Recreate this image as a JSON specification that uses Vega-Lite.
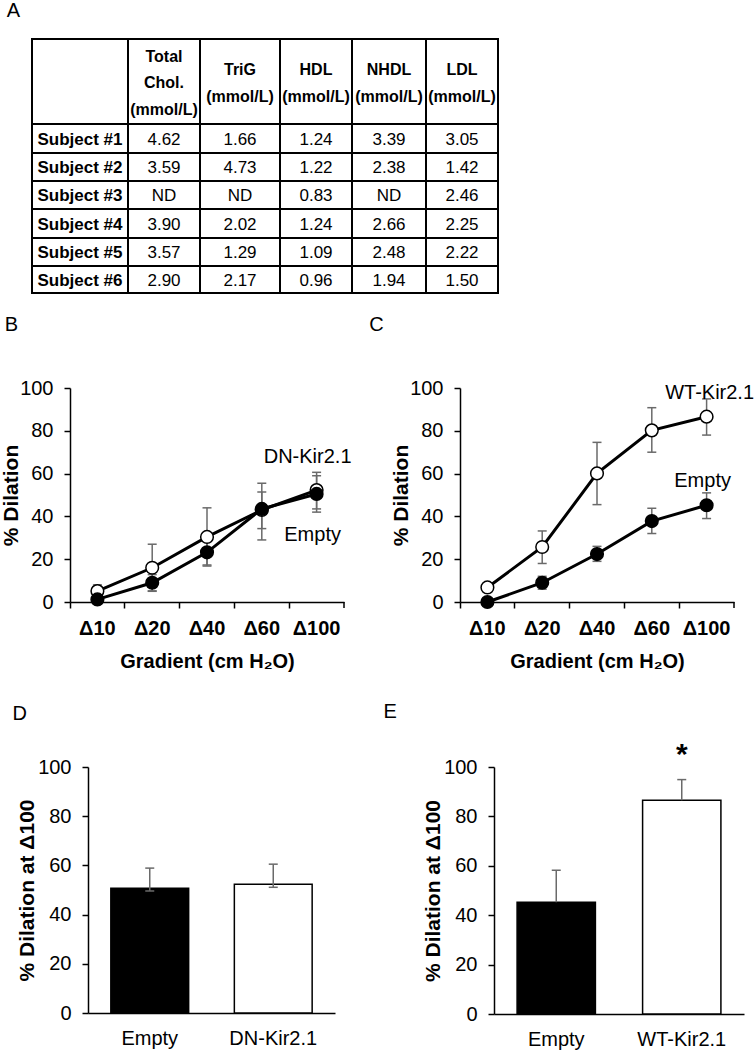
{
  "$schema": "https://vega.github.io/schema/vega-lite/v6.json",
  "width": 754,
  "height": 1050,
  "autosize": {"type": "none"},
  "padding": 0,
  "background": "white",
  "config": {
    "view": {"stroke": null},
    "font": "Liberation Sans",
    "axis": {
      "domainColor": "black", "domainWidth": 1.5, "tickColor": "black", "tickWidth": 1.5, "tickSize": 6,
      "labelColor": "black", "labelFont": "Liberation Sans", "labelFontSize": 20, "labelPadding": 11,
      "titleColor": "black", "titleFont": "Liberation Sans", "titleFontSize": 21, "titleFontWeight": "bold",
      "grid": false
    }
  },
  "datasets": {
    "colHeads3": [
      {"row": 0, "col": 1, "label": "Total\nChol.\n(mmol/L)"}
    ],
    "colHeads2": [
      {"row": 0, "col": 2, "label": "TriG\n(mmol/L)"},
      {"row": 0, "col": 3, "label": "HDL\n(mmol/L)"},
      {"row": 0, "col": 4, "label": "NHDL\n(mmol/L)"},
      {"row": 0, "col": 5, "label": "LDL\n(mmol/L)"}
    ],
    "rowHeads": [
      {"row": 1, "col": 0, "label": "Subject #1"},
      {"row": 2, "col": 0, "label": "Subject #2"},
      {"row": 3, "col": 0, "label": "Subject #3"},
      {"row": 4, "col": 0, "label": "Subject #4"},
      {"row": 5, "col": 0, "label": "Subject #5"},
      {"row": 6, "col": 0, "label": "Subject #6"}
    ],
    "tableValues": [
      {"row": 1, "col": 1, "label": "4.62"}, {"row": 1, "col": 2, "label": "1.66"}, {"row": 1, "col": 3, "label": "1.24"}, {"row": 1, "col": 4, "label": "3.39"}, {"row": 1, "col": 5, "label": "3.05"},
      {"row": 2, "col": 1, "label": "3.59"}, {"row": 2, "col": 2, "label": "4.73"}, {"row": 2, "col": 3, "label": "1.22"}, {"row": 2, "col": 4, "label": "2.38"}, {"row": 2, "col": 5, "label": "1.42"},
      {"row": 3, "col": 1, "label": "ND"}, {"row": 3, "col": 2, "label": "ND"}, {"row": 3, "col": 3, "label": "0.83"}, {"row": 3, "col": 4, "label": "ND"}, {"row": 3, "col": 5, "label": "2.46"},
      {"row": 4, "col": 1, "label": "3.90"}, {"row": 4, "col": 2, "label": "2.02"}, {"row": 4, "col": 3, "label": "1.24"}, {"row": 4, "col": 4, "label": "2.66"}, {"row": 4, "col": 5, "label": "2.25"},
      {"row": 5, "col": 1, "label": "3.57"}, {"row": 5, "col": 2, "label": "1.29"}, {"row": 5, "col": 3, "label": "1.09"}, {"row": 5, "col": 4, "label": "2.48"}, {"row": 5, "col": 5, "label": "2.22"},
      {"row": 6, "col": 1, "label": "2.90"}, {"row": 6, "col": 2, "label": "2.17"}, {"row": 6, "col": 3, "label": "0.96"}, {"row": 6, "col": 4, "label": "1.94"}, {"row": 6, "col": 5, "label": "1.50"}
    ],
    "lineB": [
      {"group": "DN-Kir2.1", "grad": "Δ10", "mean": 5.1, "lo": 2.2, "hi": 8},
      {"group": "DN-Kir2.1", "grad": "Δ20", "mean": 16, "lo": 5, "hi": 27},
      {"group": "DN-Kir2.1", "grad": "Δ40", "mean": 30.4, "lo": 16.8, "hi": 44},
      {"group": "DN-Kir2.1", "grad": "Δ60", "mean": 43, "lo": 29, "hi": 55.5},
      {"group": "DN-Kir2.1", "grad": "Δ100", "mean": 52.3, "lo": 43.5, "hi": 60.6},
      {"group": "Empty", "grad": "Δ10", "mean": 1.2, "lo": 0, "hi": 2.5},
      {"group": "Empty", "grad": "Δ20", "mean": 9, "lo": 5.2, "hi": 12.8},
      {"group": "Empty", "grad": "Δ40", "mean": 23.2, "lo": 17.3, "hi": 29},
      {"group": "Empty", "grad": "Δ60", "mean": 43.5, "lo": 34.3, "hi": 51.4},
      {"group": "Empty", "grad": "Δ100", "mean": 50.5, "lo": 42, "hi": 59}
    ],
    "lineC": [
      {"group": "WT-Kir2.1", "grad": "Δ10", "mean": 6.8, "lo": 4.5, "hi": 9},
      {"group": "WT-Kir2.1", "grad": "Δ20", "mean": 25.7, "lo": 18, "hi": 33.2},
      {"group": "WT-Kir2.1", "grad": "Δ40", "mean": 60.1, "lo": 45.5, "hi": 74.6},
      {"group": "WT-Kir2.1", "grad": "Δ60", "mean": 80.2, "lo": 70, "hi": 90.8},
      {"group": "WT-Kir2.1", "grad": "Δ100", "mean": 86.6, "lo": 78, "hi": 94.9},
      {"group": "Empty", "grad": "Δ10", "mean": 0, "lo": 0, "hi": 1},
      {"group": "Empty", "grad": "Δ20", "mean": 9, "lo": 6, "hi": 12},
      {"group": "Empty", "grad": "Δ40", "mean": 22.4, "lo": 19, "hi": 26},
      {"group": "Empty", "grad": "Δ60", "mean": 37.8, "lo": 32, "hi": 43.8},
      {"group": "Empty", "grad": "Δ100", "mean": 45.2, "lo": 39, "hi": 51}
    ],
    "barsD": [
      {"group": "Empty", "mean": 50.7, "lo": 49.6, "hi": 58.9},
      {"group": "DN-Kir2.1", "mean": 52.3, "lo": 51.1, "hi": 60.5}
    ],
    "barsE": [
      {"group": "Empty", "mean": 45.2, "hi": 58.2},
      {"group": "WT-Kir2.1", "mean": 86.5, "hi": 94.9}
    ]
  },
  "layer": [
    {
      "layer": [
        {
          "layer": [
            {
              "data": {"values": [{"col": 0}, {"col": 1}, {"col": 2}, {"col": 3}, {"col": 4}, {"col": 5}, {"col": 6}]},
              "mark": {"type": "rule", "color": "black", "strokeWidth": 2, "strokeCap": "square"},
              "encoding": {
                "x": {"field": "col", "type": "quantitative", "axis": null, "scale": {"domain": [0, 1, 2, 3, 4, 5, 6], "range": [32, 128, 200, 280, 352, 426, 498], "zero": false, "nice": false}},
                "y": {"datum": 0, "type": "quantitative", "axis": null, "scale": {"domain": [0, 1, 2, 3, 4, 5, 6, 7], "range": [39, 124, 153, 181, 209, 238, 266, 293], "zero": false, "nice": false}},
                "y2": {"datum": 7}
              }
            },
            {
              "data": {"values": [{"row": 0}, {"row": 1}, {"row": 2}, {"row": 3}, {"row": 4}, {"row": 5}, {"row": 6}, {"row": 7}]},
              "mark": {"type": "rule", "color": "black", "strokeWidth": 2, "strokeCap": "square"},
              "encoding": {
                "y": {"field": "row", "type": "quantitative", "axis": null, "scale": {"domain": [0, 1, 2, 3, 4, 5, 6, 7], "range": [39, 124, 153, 181, 209, 238, 266, 293], "zero": false, "nice": false}},
                "x": {"datum": 0, "type": "quantitative", "axis": null, "scale": {"domain": [0, 1, 2, 3, 4, 5, 6], "range": [32, 128, 200, 280, 352, 426, 498], "zero": false, "nice": false}},
                "x2": {"datum": 6}
              }
            }
          ]
        },
        {
          "encoding": {
            "x": {"field": "col", "type": "quantitative", "axis": null, "scale": {"domain": [0, 1, 2, 3, 4, 5], "range": [80, 164, 240, 316, 389, 462], "zero": false, "nice": false}},
            "y": {"field": "row", "type": "quantitative", "axis": null, "scale": {"domain": [0, 1, 2, 3, 4, 5, 6], "range": [83, 140, 168, 196, 224.5, 253, 280.5], "zero": false, "nice": false}},
            "text": {"field": "label", "type": "nominal"}
          },
          "layer": [
            {
              "data": {"name": "colHeads3"},
              "mark": {"type": "text", "font": "Liberation Sans", "fontSize": 16, "fontWeight": "bold", "color": "black", "align": "center", "baseline": "middle", "lineBreak": "\n", "lineHeight": 26.5, "dy": -26.5}
            },
            {
              "data": {"name": "colHeads2"},
              "mark": {"type": "text", "font": "Liberation Sans", "fontSize": 16, "fontWeight": "bold", "color": "black", "align": "center", "baseline": "middle", "lineBreak": "\n", "lineHeight": 27, "dy": -13.5}
            },
            {
              "data": {"name": "rowHeads"},
              "mark": {"type": "text", "font": "Liberation Sans", "fontSize": 17, "fontWeight": "bold", "color": "black", "align": "center", "baseline": "middle"}
            },
            {
              "data": {"name": "tableValues"},
              "mark": {"type": "text", "font": "Liberation Sans", "fontSize": 17, "color": "black", "align": "center", "baseline": "middle"}
            },
            {
              "data": {"values": [{"label": "A", "col": 0, "row": 0}]},
              "mark": {"type": "text", "font": "Liberation Sans", "fontSize": 20, "color": "black", "align": "center", "baseline": "alphabetic", "dx": -66.5, "dy": -66}
            }
          ]
        }
      ],
      "resolve": {"scale": {"x": "independent", "y": "independent"}}
    },
    {
      "data": {"name": "lineB"},
      "encoding": {
        "x": {"field": "grad", "type": "nominal", "sort": ["Δ10", "Δ20", "Δ40", "Δ60", "Δ100"],
          "scale": {"type": "band", "domain": ["Δ10", "Δ20", "Δ40", "Δ60", "Δ100"], "range": [70, 344], "paddingInner": 0, "paddingOuter": 0},
          "axis": {"orient": "bottom", "offset": -448, "bandPosition": 0, "title": "Gradient (cm H₂O)", "titleFontSize": 20, "titlePadding": 13, "labelFontWeight": "bold", "labelAngle": 0, "labelPadding": 10}},
        "y": {"field": "mean", "type": "quantitative",
          "scale": {"domain": [0, 100], "range": [602, 388], "zero": false, "nice": false},
          "axis": {"orient": "left", "offset": -70, "values": [0, 20, 40, 60, 80, 100], "title": "% Dilation", "titlePadding": -2}}
      },
      "layer": [
        {"data": {"values": [{"end": "Δ100", "top": 0, "bottom": -2.8}]},
          "mark": {"type": "rule", "color": "black", "strokeWidth": 1.5},
          "encoding": {"x": {"field": "end", "type": "nominal", "bandPosition": 1}, "y": {"field": "top", "type": "quantitative"}, "y2": {"field": "bottom"}}},
        {"mark": {"type": "rule", "color": "#6a6a6a", "strokeWidth": 1.5}, "encoding": {"y": {"field": "lo", "type": "quantitative"}, "y2": {"field": "hi"}}},
        {"mark": {"type": "tick", "orient": "horizontal", "size": 9, "thickness": 1.5, "color": "#6a6a6a", "opacity": 1}, "encoding": {"y": {"field": "lo", "type": "quantitative"}}},
        {"mark": {"type": "tick", "orient": "horizontal", "size": 9, "thickness": 1.5, "color": "#6a6a6a", "opacity": 1}, "encoding": {"y": {"field": "hi", "type": "quantitative"}}},
        {"mark": {"type": "line", "color": "black", "strokeWidth": 3}, "encoding": {"detail": {"field": "group", "type": "nominal"}}},
        {"mark": {"type": "point", "shape": "circle", "filled": true, "size": 160, "stroke": "black", "strokeWidth": 1.5, "opacity": 1},
          "encoding": {"fill": {"field": "group", "type": "nominal", "scale": {"domain": ["Empty", "DN-Kir2.1", "WT-Kir2.1"], "range": ["black", "white", "white"]}, "legend": null}}},
        {"data": {"values": [{"label": "DN-Kir2.1", "grad": "Δ100", "pos": 65}]},
          "mark": {"type": "text", "fontSize": 20, "color": "black", "align": "center", "baseline": "alphabetic", "dx": -9},
          "encoding": {"y": {"field": "pos", "type": "quantitative"}, "text": {"field": "label"}}},
        {"data": {"values": [{"label": "Empty", "grad": "Δ100", "pos": 28.5}]},
          "mark": {"type": "text", "fontSize": 20, "color": "black", "align": "center", "baseline": "alphabetic", "dx": -4},
          "encoding": {"y": {"field": "pos", "type": "quantitative"}, "text": {"field": "label"}}},
        {"data": {"values": [{"label": "B", "grad": "Δ10", "pos": 100}]},
          "mark": {"type": "text", "fontSize": 20, "color": "black", "align": "center", "baseline": "alphabetic", "dx": -86, "dy": -57},
          "encoding": {"y": {"field": "pos", "type": "quantitative"}, "text": {"field": "label"}}}
      ]
    },
    {
      "data": {"name": "lineC"},
      "encoding": {
        "x": {"field": "grad", "type": "nominal", "sort": ["Δ10", "Δ20", "Δ40", "Δ60", "Δ100"],
          "scale": {"type": "band", "domain": ["Δ10", "Δ20", "Δ40", "Δ60", "Δ100"], "range": [460, 734], "paddingInner": 0, "paddingOuter": 0},
          "axis": {"orient": "bottom", "offset": -448, "bandPosition": 0, "title": "Gradient (cm H₂O)", "titleFontSize": 20, "titlePadding": 13, "labelFontWeight": "bold", "labelAngle": 0, "labelPadding": 10}},
        "y": {"field": "mean", "type": "quantitative",
          "scale": {"domain": [0, 100], "range": [602, 388], "zero": false, "nice": false},
          "axis": {"orient": "left", "offset": -460, "values": [0, 20, 40, 60, 80, 100], "title": "% Dilation", "titlePadding": -2}}
      },
      "layer": [
        {"data": {"values": [{"end": "Δ100", "top": 0, "bottom": -2.8}]},
          "mark": {"type": "rule", "color": "black", "strokeWidth": 1.5},
          "encoding": {"x": {"field": "end", "type": "nominal", "bandPosition": 1}, "y": {"field": "top", "type": "quantitative"}, "y2": {"field": "bottom"}}},
        {"mark": {"type": "rule", "color": "#6a6a6a", "strokeWidth": 1.5}, "encoding": {"y": {"field": "lo", "type": "quantitative"}, "y2": {"field": "hi"}}},
        {"mark": {"type": "tick", "orient": "horizontal", "size": 9, "thickness": 1.5, "color": "#6a6a6a", "opacity": 1}, "encoding": {"y": {"field": "lo", "type": "quantitative"}}},
        {"mark": {"type": "tick", "orient": "horizontal", "size": 9, "thickness": 1.5, "color": "#6a6a6a", "opacity": 1}, "encoding": {"y": {"field": "hi", "type": "quantitative"}}},
        {"mark": {"type": "line", "color": "black", "strokeWidth": 3}, "encoding": {"detail": {"field": "group", "type": "nominal"}}},
        {"mark": {"type": "point", "shape": "circle", "filled": true, "size": 160, "stroke": "black", "strokeWidth": 1.5, "opacity": 1},
          "encoding": {"fill": {"field": "group", "type": "nominal", "scale": {"domain": ["Empty", "DN-Kir2.1", "WT-Kir2.1"], "range": ["black", "white", "white"]}, "legend": null}}},
        {"data": {"values": [{"label": "WT-Kir2.1", "grad": "Δ100", "pos": 95}]},
          "mark": {"type": "text", "fontSize": 20, "color": "black", "align": "center", "baseline": "alphabetic", "dx": 3},
          "encoding": {"y": {"field": "pos", "type": "quantitative"}, "text": {"field": "label"}}},
        {"data": {"values": [{"label": "Empty", "grad": "Δ100", "pos": 53.7}]},
          "mark": {"type": "text", "fontSize": 20, "color": "black", "align": "center", "baseline": "alphabetic", "dx": -4},
          "encoding": {"y": {"field": "pos", "type": "quantitative"}, "text": {"field": "label"}}},
        {"data": {"values": [{"label": "C", "grad": "Δ10", "pos": 100}]},
          "mark": {"type": "text", "fontSize": 20, "color": "black", "align": "center", "baseline": "alphabetic", "dx": -111, "dy": -57},
          "encoding": {"y": {"field": "pos", "type": "quantitative"}, "text": {"field": "label"}}}
      ]
    },
    {
      "data": {"name": "barsD"},
      "encoding": {
        "x": {"field": "group", "type": "nominal", "sort": ["Empty", "DN-Kir2.1"],
          "scale": {"type": "band", "domain": ["Empty", "DN-Kir2.1"], "range": [88, 335], "paddingInner": 0.37, "paddingOuter": 0.185},
          "axis": {"orient": "bottom", "offset": -37, "ticks": false, "title": null, "labelAngle": 0, "labelPadding": 15}},
        "y": {"field": "mean", "type": "quantitative",
          "scale": {"domain": [0, 100], "range": [1013, 767], "zero": false, "nice": false},
          "axis": {"orient": "left", "offset": -88, "values": [0, 20, 40, 60, 80, 100], "title": "% Dilation at Δ100", "titlePadding": 0}}
      },
      "layer": [
        {"mark": {"type": "bar", "stroke": "black", "strokeWidth": 1.5, "opacity": 1},
          "encoding": {"fill": {"field": "group", "type": "nominal", "scale": {"domain": ["Empty", "DN-Kir2.1", "WT-Kir2.1"], "range": ["black", "white", "white"]}, "legend": null}}},
        {"mark": {"type": "rule", "color": "#6a6a6a", "strokeWidth": 1.5}, "encoding": {"y": {"field": "lo", "type": "quantitative"}, "y2": {"field": "hi"}}},
        {"mark": {"type": "tick", "orient": "horizontal", "size": 9, "thickness": 1.5, "color": "#6a6a6a", "opacity": 1}, "encoding": {"y": {"field": "lo", "type": "quantitative"}}},
        {"mark": {"type": "tick", "orient": "horizontal", "size": 9, "thickness": 1.5, "color": "#6a6a6a", "opacity": 1}, "encoding": {"y": {"field": "hi", "type": "quantitative"}}},
        {"data": {"values": [{"label": "D", "group": "Empty", "pos": 100}]},
          "mark": {"type": "text", "fontSize": 20, "color": "black", "align": "center", "baseline": "alphabetic", "dx": -130, "dy": -47},
          "encoding": {"y": {"field": "pos", "type": "quantitative"}, "text": {"field": "label"}}}
      ]
    },
    {
      "data": {"name": "barsE"},
      "encoding": {
        "x": {"field": "group", "type": "nominal", "sort": ["Empty", "WT-Kir2.1"],
          "scale": {"type": "band", "domain": ["Empty", "WT-Kir2.1"], "range": [494, 744], "paddingInner": 0.376, "paddingOuter": 0.184},
          "axis": {"orient": "bottom", "offset": -36, "ticks": false, "title": null, "labelAngle": 0, "labelPadding": 15}},
        "y": {"field": "mean", "type": "quantitative",
          "scale": {"domain": [0, 100], "range": [1014, 767], "zero": false, "nice": false},
          "axis": {"orient": "left", "offset": -494, "values": [0, 20, 40, 60, 80, 100], "title": "% Dilation at Δ100", "titlePadding": 0}}
      },
      "layer": [
        {"mark": {"type": "bar", "stroke": "black", "strokeWidth": 1.5, "opacity": 1},
          "encoding": {"fill": {"field": "group", "type": "nominal", "scale": {"domain": ["Empty", "DN-Kir2.1", "WT-Kir2.1"], "range": ["black", "white", "white"]}, "legend": null}}},
        {"mark": {"type": "rule", "color": "#6a6a6a", "strokeWidth": 1.5}, "encoding": {"y": {"field": "mean", "type": "quantitative"}, "y2": {"field": "hi"}}},
        {"mark": {"type": "tick", "orient": "horizontal", "size": 9, "thickness": 1.5, "color": "#6a6a6a", "opacity": 1}, "encoding": {"y": {"field": "hi", "type": "quantitative"}}},
        {"data": {"values": [{"label": "*", "group": "WT-Kir2.1", "pos": 100}]},
          "mark": {"type": "text", "fontSize": 30, "fontWeight": "bold", "color": "black", "align": "center", "baseline": "alphabetic", "dy": -3},
          "encoding": {"y": {"field": "pos", "type": "quantitative"}, "text": {"field": "label"}}},
        {"data": {"values": [{"label": "E", "group": "Empty", "pos": 100}]},
          "mark": {"type": "text", "fontSize": 20, "color": "black", "align": "center", "baseline": "alphabetic", "dx": -166, "dy": -49},
          "encoding": {"y": {"field": "pos", "type": "quantitative"}, "text": {"field": "label"}}}
      ]
    }
  ],
  "resolve": {
    "scale": {"x": "independent", "y": "independent"},
    "axis": {"x": "independent", "y": "independent"}
  }
}
